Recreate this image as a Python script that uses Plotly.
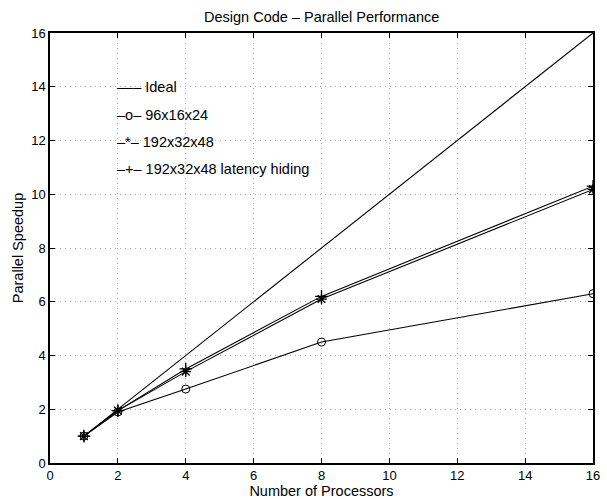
import plotly.graph_objects as go

procs = [1, 2, 4, 8, 16]
ideal = [1, 2, 4, 8, 16]
s_96 = [1, 1.9, 2.75, 4.5, 6.3]
s_192 = [1, 1.95, 3.4, 6.1, 10.18]
s_192_lh = [1, 1.95, 3.5, 6.2, 10.3]

legend_labels = ["\u2013\u2013\u2013 Ideal", "\u2013o\u2013 96x16x24",
                 "\u2013*\u2013 192x32x48", "\u2013+\u2013 192x32x48 latency hiding"]
legend_y = [14.0, 12.95, 11.95, 10.95]

FONT = "Liberation Sans, Arial"

fig = go.Figure()
lw = 1.1
fig.add_trace(go.Scatter(x=procs, y=ideal, mode="lines", line=dict(color="black", width=lw)))
fig.add_trace(go.Scatter(x=procs, y=s_96, mode="lines+markers", line=dict(color="black", width=lw),
                         marker=dict(symbol="circle-open", size=8, color="black", line=dict(width=1))))
fig.add_trace(go.Scatter(x=procs, y=s_192, mode="lines+markers", line=dict(color="black", width=lw),
                         marker=dict(symbol="asterisk-open", size=9, color="black", line=dict(width=1.3))))
fig.add_trace(go.Scatter(x=procs, y=s_192_lh, mode="lines+markers", line=dict(color="black", width=lw),
                         marker=dict(symbol="cross-thin-open", size=9, color="black", line=dict(width=1.3))))

for lab, yy in zip(legend_labels, legend_y):
    fig.add_annotation(x=2, y=yy, xref="x", yref="y", text=lab, showarrow=False,
                       xanchor="left", yanchor="middle", xshift=-3,
                       font=dict(family=FONT, size=14.5, color="black"))

axis_common = dict(showline=True, linecolor="black", linewidth=1.5, mirror="ticks",
                   ticks="inside", ticklen=5, tickcolor="black", automargin=False,
                   showgrid=True, gridcolor="#aaaaaa", griddash="1px,4px", gridwidth=1,
                   zeroline=False, tickfont=dict(family=FONT, size=13, color="black"))

fig.update_xaxes(range=[0, 16], dtick=2, tick0=0,
                 title=dict(text="Number of Processors", standoff=0,
                            font=dict(family=FONT, size=14.5, color="black")),
                 **axis_common)
fig.update_yaxes(range=[0, 16], dtick=2, tick0=0,
                 title=dict(text="Parallel Speedup", standoff=4,
                            font=dict(family=FONT, size=14.5, color="black")),
                 **axis_common)

fig.update_layout(
    width=607, height=499,
    margin=dict(l=50, r=14, t=33, b=36),
    showlegend=False,
    plot_bgcolor="white", paper_bgcolor="white",
    title=dict(text="Design Code \u2013 Parallel Performance", x=0.53, xanchor="center",
               y=1 - 17 / 499, yanchor="middle",
               font=dict(family=FONT, size=14.5, color="black")),
)

fig.write_html("out.html", config={"displayModeBar": False},
               post_script="document.body.style.margin='0';document.body.style.overflow='hidden';")
